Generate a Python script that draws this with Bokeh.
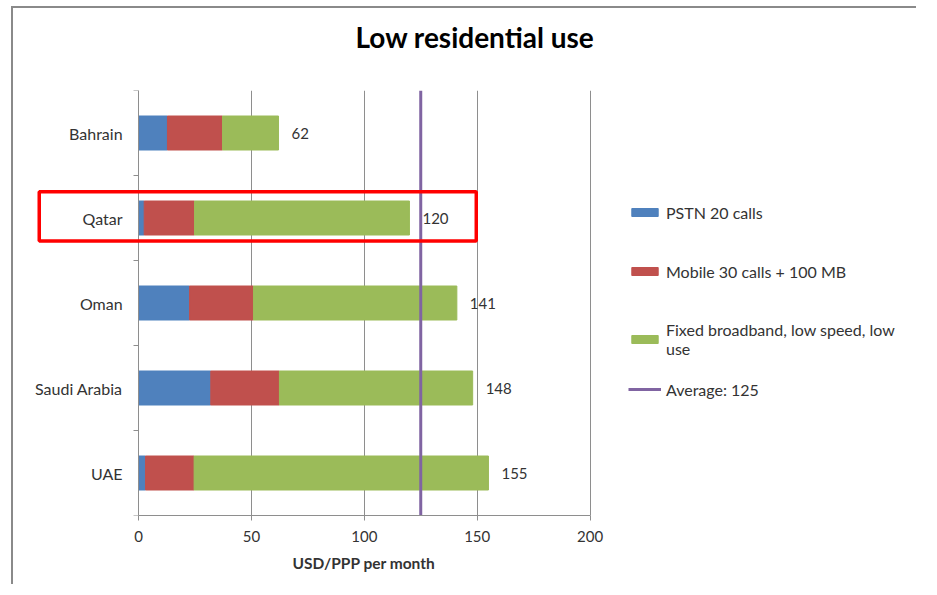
from bokeh.plotting import figure
from bokeh.models import (Range1d, FixedTicker, BoxAnnotation, Legend, LegendItem,
                          ColumnDataSource, Title)
from bokeh.core.properties import value
from bokeh.embed import file_html
from bokeh.resources import INLINE

# ---- data ----
countries = ["Bahrain", "Qatar", "Oman", "Saudi Arabia", "UAE"]
pstn = [12.8, 2.5, 22.6, 32.0, 3.1]
mobile = [24.4, 22.3, 28.3, 30.4, 21.5]
fixed_bb = [24.8, 95.2, 90.1, 85.6, 130.4]
average = 125
x_ticks = [0, 50, 100, 150, 200]
series_names = ["PSTN 20 calls", "Mobile 30 calls + 100 MB",
                "Fixed broadband, low speed, low\nuse"]
highlight_country = "Qatar"

# ---- styles ----
colors = ["#4F81BD", "#C0504D", "#9BBB59"]
avg_color = "#8064A2"
grey = "#8e8e8e"
txt = "#333333"
FONT = "Lato"

n = len(countries)
ys = [n - 0.5 - i for i in range(n)]
totals = [a + b + c for a, b, c in zip(pstn, mobile, fixed_bb)]
src = ColumnDataSource(dict(y=ys, pstn=pstn, mobile=mobile, fixed=fixed_bb,
                            total=totals, label=[f"{t:.0f}" for t in totals]))

# frame is widened so that the legend and highlight box sit inside it;
# the value axis itself is bounded to 0..200
p = figure(width=905, height=578, output_backend="svg", toolbar_location=None,
           x_range=Range1d(-52.3, 345.5), y_range=Range1d(0, n),
           min_border_left=7, min_border_right=0, min_border_top=82,
           min_border_bottom=71)
p.outline_line_color = None
p.background_fill_color = "white"
p.border_fill_color = "white"
p.styles = {"margin-left": "13px", "margin-top": "8px",
            "box-shadow": "-2px -2px 0 0 #8a8a8a"}

# title
p.title.text = "Low residential use"
p.title.align = "left"
p.title.offset = 335
p.title.text_font = FONT
p.title.text_font_size = "28px"
p.title.text_font_style = "bold"
p.title.text_color = "black"
p.title.standoff = 16
# blank spacer between the title and the plotting area
p.add_layout(Title(text=" ", text_font_size="10px", standoff=16), "above")

# bars
bars = p.hbar_stack(["pstn", "mobile", "fixed"], y="y", height=0.4,
                    color=colors, source=src)

# average line
r_avg = p.segment(x0=[average], y0=[0], x1=[average], y1=[n],
                  line_color=avg_color, line_width=3)

# value labels
p.text(x="total", y="y", text="label", source=src, x_offset=13,
       text_baseline="middle", text_align="left", text_font=value(FONT),
       text_font_size="15px", text_color=txt)

# axes
xa = p.xaxis[0]
xa.ticker = FixedTicker(ticks=x_ticks)
xa.bounds = (x_ticks[0], x_ticks[-1])
xa.major_label_text_font = FONT
xa.major_label_text_font_size = "15px"
xa.major_label_text_color = txt
xa.major_label_standoff = 10
xa.major_tick_out = 5
xa.major_tick_in = 0
xa.major_tick_line_color = grey
xa.minor_tick_line_color = None
xa.axis_line_color = grey

# axis title, placed under the 0..200 span of the value axis
p.add_layout(Title(text="USD/PPP per month", align="left", offset=272,
                   text_font=FONT, text_font_style="bold", text_font_size="15.5px",
                   text_color=txt, standoff=14), "below")

ya = p.yaxis[0]
ya.fixed_location = 0
ya.ticker = FixedTicker(ticks=ys, minor_ticks=list(range(n + 1)))
ya.major_label_overrides = {y: c for y, c in zip(ys, countries)}
ya.major_label_text_font = FONT
ya.major_label_text_font_size = "16px"
ya.major_label_text_color = txt
ya.major_label_standoff = 11
ya.major_tick_out = 0
ya.major_tick_in = 0
ya.major_tick_line_color = None
ya.minor_tick_out = 5
ya.minor_tick_in = 0
ya.minor_tick_line_color = grey
ya.axis_line_color = grey

p.xgrid.grid_line_color = grey
p.ygrid.visible = False

# highlight box around Qatar row
hy = ys[countries.index(highlight_country)]
p.add_layout(BoxAnnotation(left=-44, right=149.6, bottom=hy - 0.27, top=hy + 0.31,
                           fill_alpha=0, line_color="#FF0000", line_alpha=1,
                           line_width=3.5))

# legends
common = dict(glyph_width=33, glyph_height=10, label_standoff=5, padding=0,
              margin=0, border_line_color=None, background_fill_alpha=0,
              label_text_font=FONT, label_text_font_size="16px",
              label_text_color=txt, label_height=20)
leg1 = Legend(items=[LegendItem(label=series_names[i], renderers=[bars[i]])
                     for i in range(3)], location=(608, 157), spacing=39, **common)
leg2 = Legend(items=[LegendItem(label=f"Average: {average}", renderers=[r_avg])],
              location=(608, 116), **common)
p.add_layout(leg1)
p.add_layout(leg2)

open("out.html", "w").write(file_html(p, INLINE))
